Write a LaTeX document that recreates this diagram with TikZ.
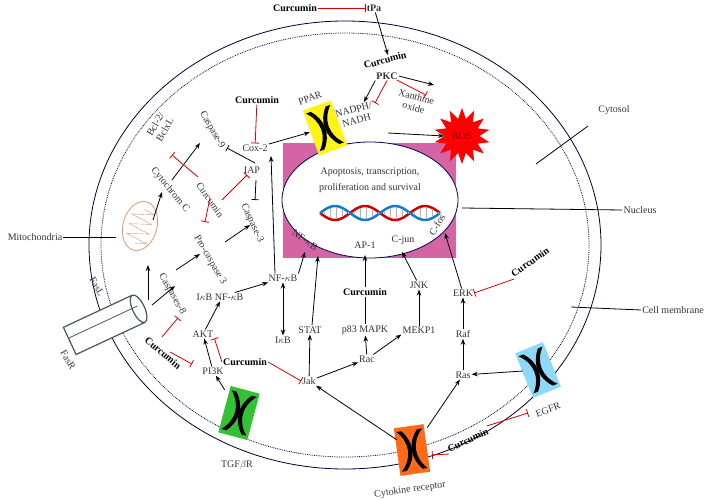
\documentclass[tikz,border=0pt]{standalone}
\usepackage{fontspec}
\setmainfont{Liberation Serif}
\usetikzlibrary{arrows.meta,shapes.geometric}
\tikzset{
  lbl/.style={font=\fontsize{10}{11}\selectfont, inner sep=1pt, text=black!80},
  cur/.style={font=\bfseries\fontsize{10}{11}\selectfont, inner sep=1pt},
  act/.style={-{Stealth[length=6pt]}, thick},
  inh/.style={-{Bar[width=8pt]}, red!85!black, thick},
  pin/.style={thick},
}
\newcommand{\recep}[4]{% name, pos, angle, colour
  \begin{scope}[shift={#2}, rotate=#3]
    \fill[#4] (-15,-24) rectangle (15,24);
    \fill[black] (-13,-20) .. controls (-1,-8) and (-1,8) .. (-13,20) -- (-8,20) .. controls (3,8) and (3,-8) .. (-8,-20) -- cycle;
    \fill[black] (13,-20) .. controls (1,-8) and (1,8) .. (13,20) -- (8,20) .. controls (-3,8) and (-3,-8) .. (8,-20) -- cycle;
  \end{scope}
  \node[minimum width=30pt, minimum height=46pt, inner sep=0] (#1) at #2 {};}
\begin{document}
\begin{tikzpicture}[x=1pt, y=-1pt]
\useasboundingbox (0,0) rectangle (709,500);
% cell
\draw[thick, black!80!blue] (345,245) ellipse (256 and 224);
\draw[densely dotted, thick, black!80!blue] (345,245) ellipse (244 and 212);
% nucleus
\fill[magenta!55!violet!70] (283,143) rectangle (456,258);
\draw[thick, fill=white, draw=black!70!blue] (370,200) ellipse (88 and 58);
\node[lbl] at (370,172) {Apoptosis, transcription,};
\node[lbl] at (370,188) {proliferation and survival};
\draw[red!80!black, line width=2.5pt, domain=0:120, samples=60] plot ({320+\x}, {213+7*sin(\x*6)});
\draw[cyan!60!blue, line width=2.5pt, domain=0:120, samples=60] plot ({320+\x}, {213-7*sin(\x*6)});
\foreach \i in {4,10,...,118} \draw[gray!60] ({320+\i},{213-6*sin(\i*6)}) -- ({320+\i},{213+6*sin(\i*6)});
\node[lbl, rotate=-35] (nfkbn) at (305,240) {NF-$\kappa$B};
\node[lbl] (ap1) at (365,245) {AP-1};
\node[lbl] (cjun) at (403,240) {C-jun};
\node[lbl, rotate=60] (cfos) at (437,225) {C-fos};
% receptors
\recep{ppar}{(325,128)}{20}{yellow!90!white}
\recep{tgf}{(239,413)}{-15}{green!70!black!80}
\recep{cyto}{(412,450)}{8}{orange!70!red!90}
\recep{egfr}{(538,370)}{22}{cyan!45}
\node[lbl, rotate=20] at (310,98) {PPAR};
\node[lbl] at (237,465) {TGF$\beta$R};
\node[lbl, rotate=8] at (410,490) {Cytokine receptor};
\node[lbl, rotate=20] at (548,410) {EGFR};
% top
\node[cur] (c1) at (295,8) {Curcumin};
\node[lbl, font=\bfseries\fontsize{10}{11}\selectfont] (tpa) at (374,8) {tPa};
\node[cur, rotate=15] at (385,60) {Curcumin};
\node[lbl, font=\bfseries\fontsize{10}{11}\selectfont] (pkc) at (387,76) {PKC};
\node[lbl, rotate=15, align=center] (nadph) at (355,115) {NADPH/\\NADH};
\node[lbl, rotate=-15, align=center] (xan) at (415,102) {Xanthine\\oxide};
\node[star, star points=14, star point ratio=1.6, fill=red, minimum size=56pt, inner sep=0] (ros) at (462,136) {};
\node[lbl, text=red!50!black] at (462,136) {ROS};
\draw[inh] (c1) -- (tpa);
\draw[act] (tpa) -- (388,55);
\draw[act] (pkc.south west) -- (364,102);
\draw[inh] (pkc.south) -- (375,103);
\draw[act] (pkc.east) -- (434,85);
\draw[inh] (pkc.east) ++(-2,4) -- (426,95);
\draw[act] (388,133) -- (ros.west);
% apoptosis
\node[lbl] (cox) at (255,148) {Cox-2};
\node[cur] (c2) at (257,100) {Curcumin};
\node[lbl, rotate=-60] (cas9) at (212,130) {Caspase-9};
\node[lbl] (iap) at (252,170) {IAP};
\node[lbl, rotate=-65] (cas3) at (252,223) {Caspase-3};
\node[lbl, rotate=60, align=center] (bcl) at (160,127) {Bcl-2/\\BclxL};
\node[lbl, rotate=-50] (cyt) at (170,190) {Cytochrom C};
\node[lbl, rotate=-55] (c3) at (210,200) {Curcumin};
\node[lbl, rotate=-60] (pro) at (210,260) {Pro-caspase 3};
\draw[inh] (c2) -- (cox);
\draw[act] (cox) -- (ppar);
\draw[pin, -{Bar[width=7pt]}] (255,163) -- (227,148);
\draw[pin, -{Bar[width=7pt]}] (256,180) -- (255,200);
\draw[act] (172,180) -- (200,143);
\draw[inh] (198,177) -- (172,155);
\draw[inh] (222,200) -- (247,175);
\draw[inh] (210,198) -- (205,222);
% mitochondria
\begin{scope}[shift={(140,226)}, rotate=75]
  \draw[brown!60!pink, thick, fill=white] (0,0) ellipse (25 and 17);
  \draw[brown!60!pink] (-18,0) \foreach \i in {0,...,6} {-- ++(2.5,{(-1)^\i*11}) -- ++(2.5,{-(-1)^\i*11})};
\end{scope}
\draw[act] (153,220) -- (162,192);
\node[lbl] (mito) at (35,237) {Mitochondria};
\draw[pin] (mito.east) -- (116,237);
% Fas
\begin{scope}[shift={(106,324)}, rotate=25]
  \draw[black!70!cyan, very thick, fill=white] (-40,-15) -- (36,-15) arc (-90:90:6 and 15) -- (-40,15) -- cycle;
  \draw[black!70!cyan, very thick] (36,-15) arc (270:90:6 and 15);
  \draw[black!70!cyan, thick] (-40,-3) -- (36,-3);
  \coordinate (fas) at (0,0);
\end{scope}
\node[lbl, rotate=-60] at (97,287) {FasL};
\node[lbl, rotate=-60] at (68,360) {FasR};
\node[lbl, rotate=-60] (cas8) at (172,294) {Caspases-8};
\draw[act] (148,300) -- (148,265);
\draw[act] (152,305) -- (175,286);
\draw[act] (176,270) -- (200,254);
\draw[act] (225,242) -- (250,225);
\node[cur, rotate=-40] (c4) at (163,353) {Curcumin};
\draw[inh] (162,337) -- (178,318);
\draw[inh] (170,352) -- (192,364);
% middle
\node[lbl] (nfkb) at (283,278) {NF-$\kappa$B};
\node[lbl] (ikbnf) at (220,297) {I$\kappa$B NF-$\kappa$B};
\node[lbl] (ikb) at (283,340) {I$\kappa$B};
\node[lbl] (akt) at (203,334) {AKT};
\node[lbl] (pi3k) at (213,371) {PI3K};
\node[cur] (c5) at (245,362) {Curcumin};
\node[lbl] (stat) at (310,330) {STAT};
\node[lbl] (jak) at (309,381) {Jak};
\node[lbl] (rac) at (367,359) {Rac};
\node[lbl] (p83) at (365,330) {p83 MAPK};
\node[lbl] (mekp) at (419,330) {MEKP1};
\node[lbl] (jnk) at (419,285) {JNK};
\node[cur] (c6) at (365,292) {Curcumin};
\node[lbl] (erk) at (463,293) {ERK};
\node[lbl] (raf) at (463,334) {Raf};
\node[lbl] (ras) at (463,375) {Ras};
\node[cur, rotate=35] (c7) at (530,262) {Curcumin};
\node[cur, rotate=25] (c8) at (468,440) {Curcumin};
\draw[act] (ikbnf) -- (nfkb);
\draw[act] (akt) -- (ikbnf.south);
\draw[act] (pi3k) -- (akt);
\draw[act] (tgf) -- (pi3k);
\draw[act, {Stealth[length=6pt]}-{Stealth[length=6pt]}] (nfkb) -- (ikb);
\draw[act] (nfkb.north) ++(-8,0) -- (271,156);
\draw[act] (nfkb.north east) -- (305,252);
\draw[inh] (c5.west) -- (akt.south east);
\draw[inh] (c5.east) -- (jak.west);
\draw[act] (jak) -- (stat);
\draw[act] (stat.north) ++(2,0) -- (318,256);
\draw[act] (jak) -- (rac);
\draw[act] (rac) -- (p83);
\draw[act] (rac) -- (mekp.south west);
\draw[act] (mekp) -- (jnk);
\draw[act] (jnk) -- (402,252);
\draw[pin] (p83) -- (c6);
\draw[act] (c6) -- (365,255);
\draw[act] (ras) -- (raf);
\draw[act] (raf) -- (erk);
\draw[act] (erk) -- (445,233);
\draw[inh] (c7.south west) -- (erk.east);
\draw[act] (cyto) -- (jak);
\draw[act] (cyto) -- (ras);
\draw[act] (egfr) -- (ras);
\draw[inh] (c8.north east) -- (528,413);
\draw[inh] (c8.south west) -- (432,455);
% labels
\node[lbl] (cytosol) at (614,110) {Cytosol};
\draw[pin] (536,164) -- (588,126);
\node[lbl] (nuc) at (640,210) {Nucleus};
\draw[pin] (462,208) -- (nuc.west);
\node[lbl] (mem) at (673,310) {Cell membrane};
\draw[pin] (571,307) -- (mem.west);
\end{tikzpicture}
\end{document}
